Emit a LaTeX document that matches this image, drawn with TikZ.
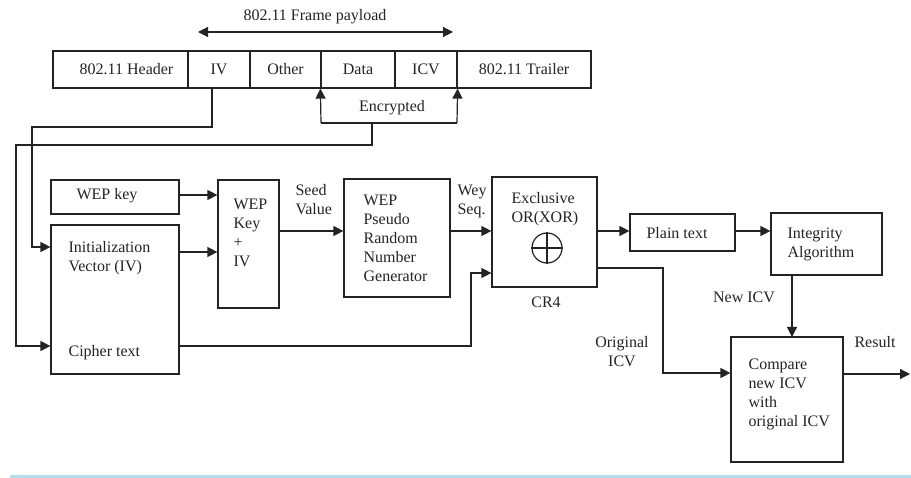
\documentclass[tikz,border=0pt]{standalone}
\usepackage{fontspec}
\setmainfont{Liberation Serif}
\usetikzlibrary{arrows.meta}
\definecolor{ln}{RGB}{35,35,35}
\definecolor{bl}{RGB}{178,222,234}
\begin{document}
\begin{tikzpicture}[x=1pt,y=-1pt, line width=1.2pt, draw=ln, text=ln,
  font=\fontsize{16}{19}\selectfont,
  box/.style={draw, inner sep=0pt, rectangle},
  tip/.style={-{Triangle[length=10pt,width=10pt]}},
  txt/.style={inner sep=0pt, anchor=base west, align=left},
  lbl/.style={inner sep=0pt, anchor=base, align=center}]
\useasboundingbox (0,0) rectangle (911,478);

% frame cells
\node[box, minimum width=135pt, minimum height=37pt] (hdr) at (120.5,69.5) {};
\node[lbl] (hdrt) at (126.5,75) {802.11 Header};
\node[box, minimum width=62pt, minimum height=37pt] (iv) at (219,69.5) {IV};
\node[box, minimum width=71pt, minimum height=37pt] (oth) at (285.5,69.5) {Other};
\node[box, minimum width=74pt, minimum height=37pt] (data) at (358,69.5) {Data};
\node[box, minimum width=62pt, minimum height=37pt] (icv) at (426,69.5) {ICV};
\node[box, minimum width=134pt, minimum height=37pt] (trl) at (524,69.5) {802.11 Trailer};

% payload arrow
\coordinate (pl) at (198,32);
\coordinate (pr) at (453,32);
\draw[{Triangle[length=10pt,width=10pt]}-{Triangle[length=10pt,width=10pt]}] (pl) -- (pr);
\node[lbl] (payload) at (315,21) {802.11 Frame payload};

% encrypted bracket
\coordinate (encL) at (321,123);
\coordinate (encR) at (457,123);
\coordinate (encM) at (372,123);
\draw[tip] (encL) -- (data.south west);
\draw[tip] (encR) -- (icv.south east);
\draw (encL) -- (encR);
\node[lbl] (enc) at (392,112) {Encrypted};

% left boxes
\node[box, minimum width=128pt, minimum height=34pt] (wepkey) at (115,197) {};
\node[txt] (wepkeyt) at (76,200) {WEP key};
\node[box, minimum width=128pt, minimum height=149pt] (ivbox) at (115,299.5) {};
\node[txt] (ivt) at (68,272) {Initialization\\Vector (IV)};
\node[txt] (ct) at (68,357) {Cipher text};

\node[box, minimum width=61pt, minimum height=128pt] (wkiv) at (248.5,244) {};
\node[txt] (wkivt) at (233,267) {WEP\\Key\\+\\IV};

\node[box, minimum width=106pt, minimum height=118pt] (prng) at (397,238) {};
\node[txt] (prngt) at (363,282) {WEP\\Pseudo\\Random\\Number\\Generator};

\node[box, minimum width=105pt, minimum height=110pt] (xor) at (544.5,232) {};
\node[txt] (xort) at (511,223) {Exclusive\\OR(XOR)};
\node[circle, draw, minimum size=30pt, inner sep=0pt] (xo) at (547,248) {};
\draw (xo.north) -- (xo.south);
\draw (xo.west) -- (xo.east);
\node[lbl] (cr4) at (546,308) {CR4};

\node[box, minimum width=105pt, minimum height=37pt] (plain) at (682.5,232.5) {};
\node[lbl] (plaint) at (677,239) {Plain text};

\node[box, minimum width=111pt, minimum height=62pt] (integ) at (826.5,244) {};
\node[txt] (integt) at (787,258) {Integrity\\Algorithm};

\node[box, minimum width=112pt, minimum height=125pt] (cmp) at (787,399.5) {};
\node[txt] (cmpt) at (748,427) {Compare\\new ICV\\with\\original ICV};

% labels
\node[txt] (seed) at (295,215) {Seed\\Value};
\node[txt] (wey) at (457,215) {Wey\\Seq.};
\node[lbl] (newicv) at (744,303) {New ICV};
\node[lbl] (origicv) at (622,367) {Original\\ICV};
\node[lbl] (result) at (875,348) {Result};

% connectors from frame
\draw[tip] (212,88) -- (212,127) -- (32,127) -- (32,247) -- (ivbox.west |- 0,247);
\draw[tip] (encM) -- (372,145) -- (16,145) -- (16,346) -- (ivbox.west |- 0,346);

% main flow
\draw[tip] (wepkey.east |- 0,195) -- (wkiv.west |- 0,195);
\draw[tip] (ivbox.east |- 0,252) -- (wkiv.west |- 0,252);
\draw[tip] (wkiv.east |- 0,231) -- (prng.west |- 0,231);
\draw[tip] (prng.east |- 0,231) -- (xor.west |- 0,231);
\draw[tip] (ivbox.east |- 0,346) -- (471,346) -- (471,273) -- (xor.west |- 0,273);
\draw[tip] (xor.east |- 0,231) -- (plain.west |- 0,231);
\draw[tip] (plain.east |- 0,231) -- (integ.west |- 0,231);
\draw[tip] (792,275) -- (792,337);
\draw[tip] (xor.east |- 0,268) -- (663,268) -- (663,373) -- (cmp.west |- 0,373);
\coordinate (resend) at (910,374);
\draw[tip] (cmp.east |- 0,374) -- (resend);

% bottom rule
\draw[bl, line width=3pt] (10,476) -- (911,476);
\end{tikzpicture}
\end{document}
